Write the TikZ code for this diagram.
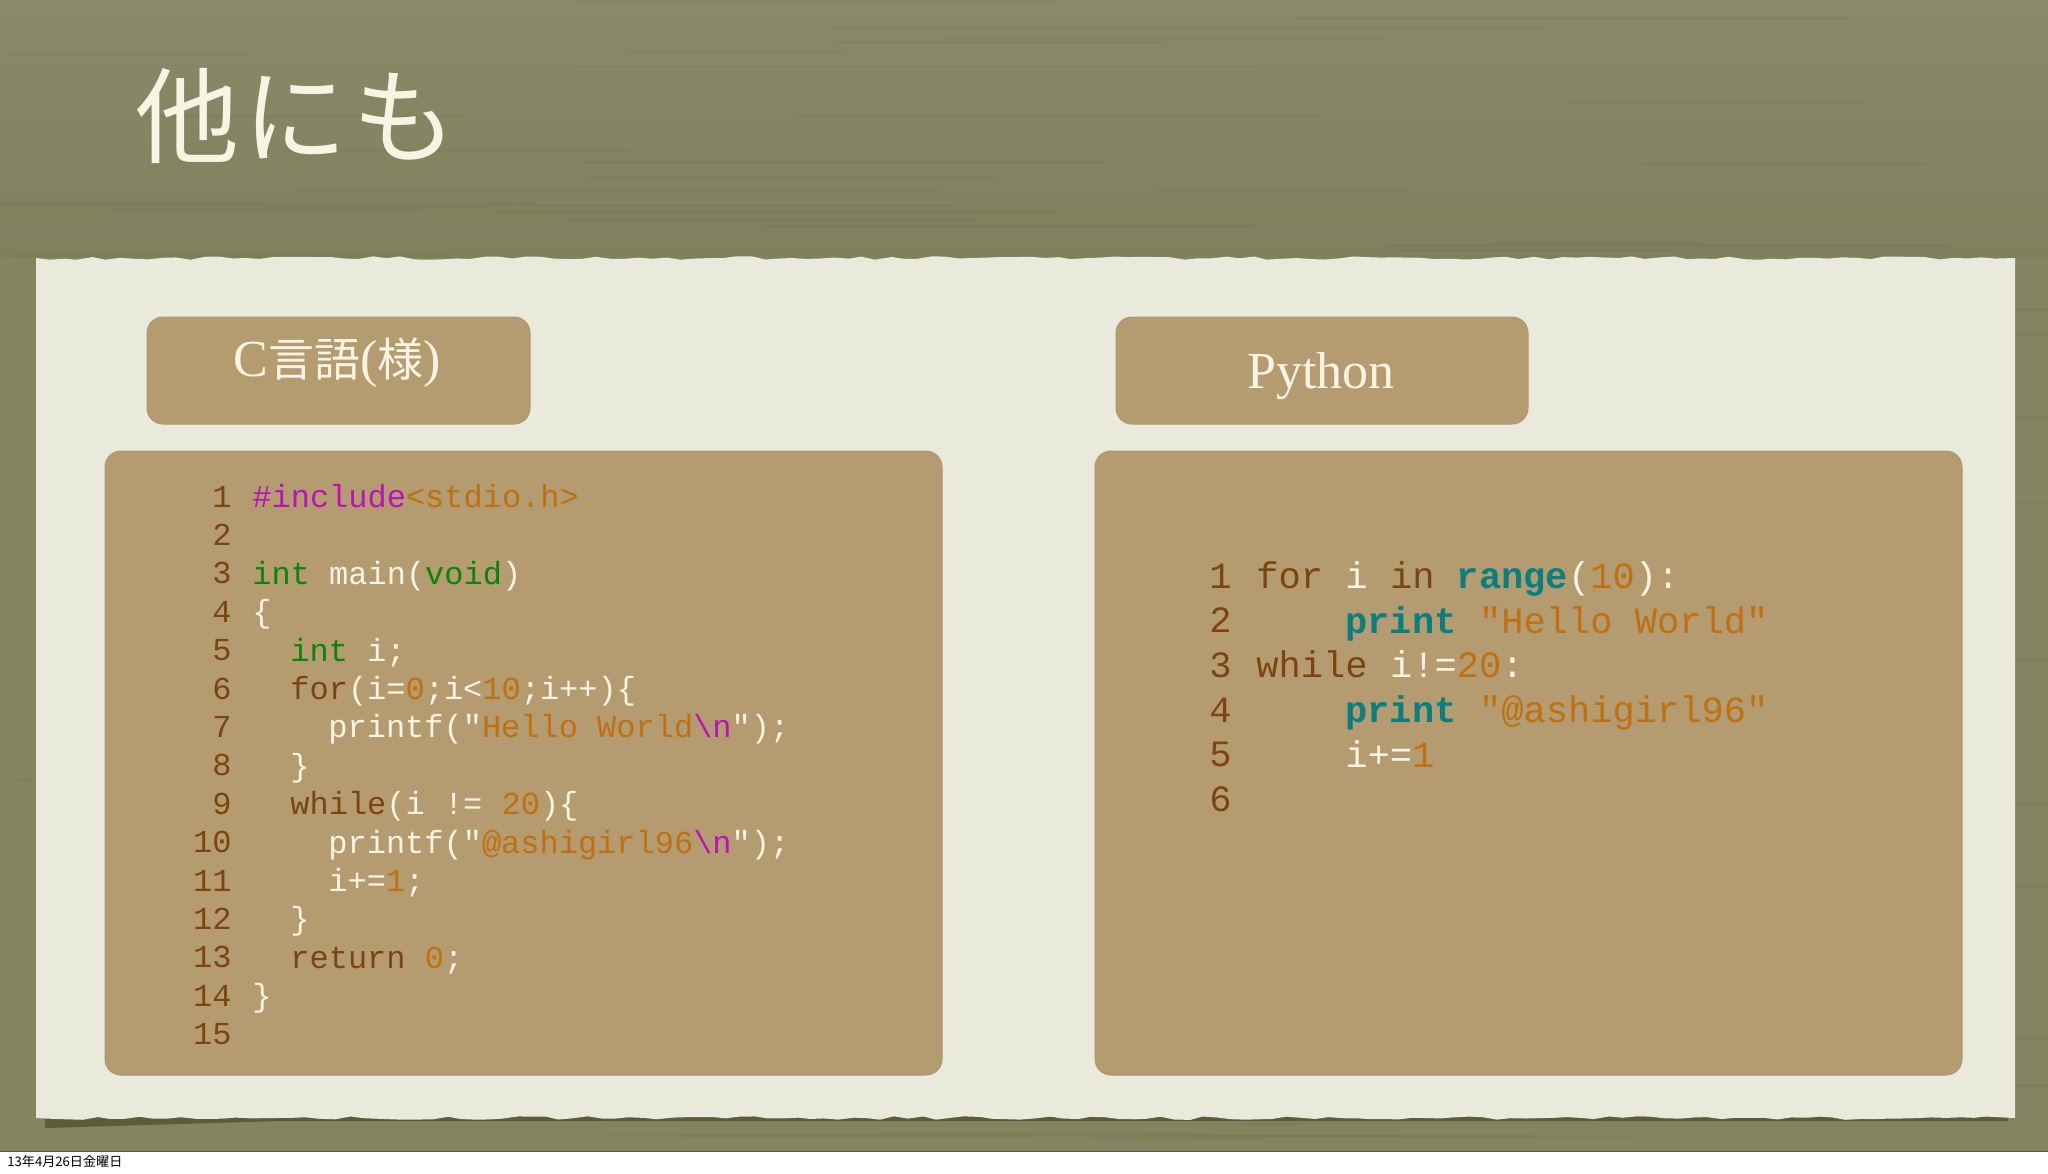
\documentclass[tikz,border=0pt]{standalone}
\usepackage{fontspec}
\setmainfont{Liberation Serif}
\setmonofont{Liberation Mono}
\newfontfamily\cjk{Noto Sans CJK JP}
\usetikzlibrary{decorations.pathmorphing}

\definecolor{clothgreen}{HTML}{84855F}
\definecolor{clothtop}{HTML}{8A8A69}
\definecolor{clothdark}{HTML}{7F805C}
\definecolor{tornshadow}{HTML}{5C5C38}
\definecolor{paperwhite}{HTML}{E9E9DC}
\definecolor{panelbrown}{HTML}{B59B70}
\definecolor{creamtext}{HTML}{F8F4E4}
\definecolor{kwbrown}{HTML}{7C4510}
\definecolor{stringorange}{HTML}{BF7010}
\definecolor{typegreen}{HTML}{0B840B}
\definecolor{macropink}{HTML}{BC12BC}
\definecolor{functeal}{HTML}{0A7F80}

\newcommand{\kw}[1]{\textcolor{kwbrown}{#1}}
\newcommand{\strg}[1]{\textcolor{stringorange}{#1}}
\newcommand{\typ}[1]{\textcolor{typegreen}{#1}}
\newcommand{\mac}[1]{\textcolor{macropink}{#1}}
\newcommand{\fnc}[1]{\textcolor{functeal}{\bfseries #1}}

\tikzset{
    panelbox/.style={fill=panelbrown, draw=panelbrown!85!gray, line width=0.5pt, rounded corners=8pt},
    tagtext/.style={text=creamtext, font=\fontsize{26}{30}\selectfont, inner sep=0pt},
    clinenum/.style={anchor=base east, inner sep=0pt, text=kwbrown, font=\fontsize{16}{18}\ttfamily},
    cline/.style={anchor=base west, inner sep=0pt, text=creamtext, font=\fontsize{16}{18}\ttfamily},
    pylinenum/.style={anchor=base east, inner sep=0pt, text=kwbrown, font=\fontsize{18.55}{20}\ttfamily},
    pyline/.style={anchor=base west, inner sep=0pt, text=creamtext, font=\fontsize{18.55}{20}\ttfamily}
}

\begin{document}
\begin{tikzpicture}[x=0.5pt, y=-0.5pt]
    \useasboundingbox (0,0) rectangle (2048,1173);
    \fill[white] (0,0) rectangle (2048,1173);

    \shade[top color=clothtop, bottom color=clothdark] (0,0) rectangle (2048,258);
    \fill[clothgreen] (0,258) rectangle (2048,1151);
    \pgfmathsetseed{26}
    \foreach \k in {1,...,130} {
        \pgfmathsetmacro{\yy}{rnd*1148}
        \pgfmathsetmacro{\xx}{rnd*1700}
        \pgfmathsetmacro{\ww}{150+rnd*600}
        \draw[black, opacity=0.025, line width=1.5pt] (\xx,\yy) -- (\xx+\ww,\yy);
    }
    \draw[black!65, line width=0.5pt] (0,1151) -- (2048,1151);

    \fill[tornshadow] (45,1118) -- (280,1114) -- (900,1116) -- (2008,1117) -- (2008,1121)
        -- (900,1121) -- (280,1121) -- (45,1128) -- cycle;
    \fill[paperwhite, decoration={random steps, segment length=7pt, amplitude=0.9pt}]
        (36,258) decorate {-- (2015,258)} -- (2015,1118)
        decorate {-- (36,1118)} -- cycle;

    \draw[panelbox] (147,317) rectangle (530,424);
    \draw[panelbox] (1116,317) rectangle (1528,424);
    \draw[panelbox] (105,451) rectangle (942,1075);
    \draw[panelbox] (1095,451) rectangle (1962,1075);

    \node[text=creamtext, font=\cjk\fontsize{52}{56}\selectfont, inner sep=0pt] (title) at (296,116) {他\hspace{2.5pt}に\hspace{2.5pt}も};
    \node[tagtext] (ctag) at (337,363) {C{\cjk\fontsize{23}{26}\selectfont 言語}({\cjk\fontsize{23}{26}\selectfont 様})};
    \node[tagtext] (pytag) at (1321,376) {Python};

    \foreach \n in {1,...,15} {
        \node[clinenum] (cnum\n) at (232,{507+38.4*(\n-1)}) {\n};
    }
    \node[cline] (c1) at (252,507) {\mac{\#include}\strg{<stdio.h>}};
    \node[cline] (c3) at (252,584) {\typ{int} main(\typ{void})};
    \node[cline] (c4) at (252,622) {\{};
    \node[cline] (c5) at (290,661) {\typ{int} i;};
    \node[cline] (c6) at (290,699) {\kw{for}(i=\strg{0};i<\strg{10};i++)\{};
    \node[cline] (c7) at (328,737) {printf("\strg{Hello World}\mac{\textbackslash n}");};
    \node[cline] (c8) at (290,776) {\}};
    \node[cline] (c9) at (290,814) {\kw{while}(i != \strg{20})\{};
    \node[cline] (c10) at (328,853) {printf("\strg{@ashigirl96}\mac{\textbackslash n}");};
    \node[cline] (c11) at (328,891) {i+=\strg{1};};
    \node[cline] (c12) at (290,929) {\}};
    \node[cline] (c13) at (290,968) {\kw{return} \strg{0};};
    \node[cline] (c14) at (252,1006) {\}};

    \foreach \n in {1,...,6} {
        \node[pylinenum] (pynum\n) at (1232,{588+44.7*(\n-1)}) {\n};
    }
    \node[pyline] (py1) at (1256,588) {\kw{for} i \kw{in} \fnc{range}(\strg{10}):};
    \node[pyline] (py2) at (1345,633) {\fnc{print} \strg{"Hello World"}};
    \node[pyline] (py3) at (1256,677) {\kw{while} i!=\strg{20}:};
    \node[pyline] (py4) at (1345,722) {\fnc{print} \strg{"@ashigirl96"}};
    \node[pyline] (py5) at (1345,767) {i+=\strg{1}};

    \node[anchor=west, inner sep=0pt, font=\cjk\fontsize{6.55}{8}\selectfont] (datestamp) at (7,1161) {13年4月26日金曜日};
\end{tikzpicture}
\end{document}
